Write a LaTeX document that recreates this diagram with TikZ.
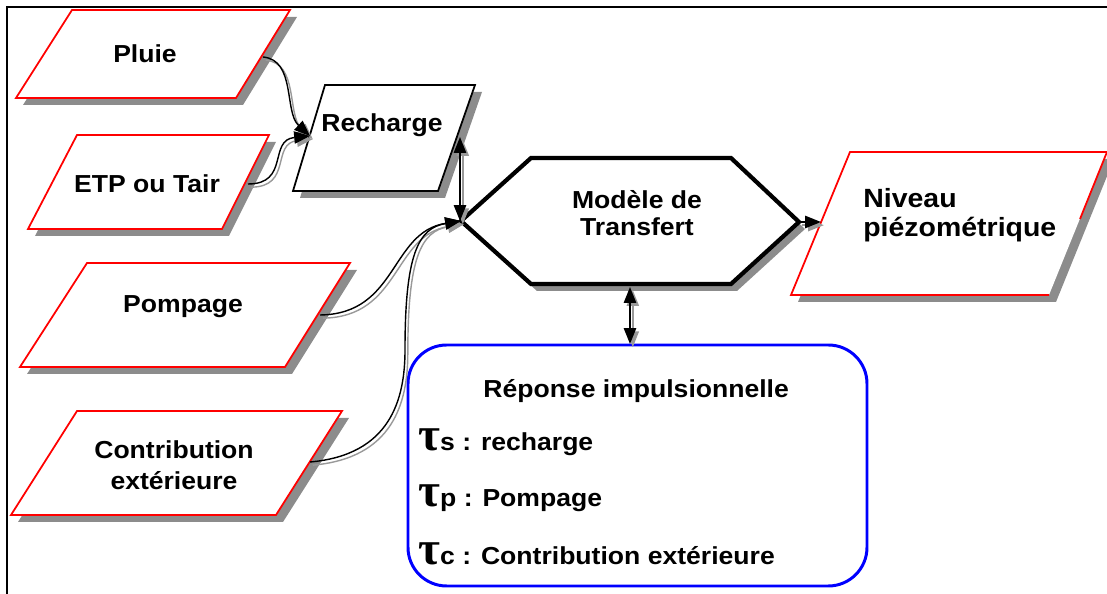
\documentclass[tikz,border=0pt]{standalone}
\usepackage{fontspec}
\setmainfont{Liberation Sans}[FakeStretch=1.08]
\newfontfamily\taufont{Liberation Serif}
\usetikzlibrary{arrows.meta}

\tikzset{
  arr/.tip={Triangle[length=9pt,width=7pt]},
  frame/.style={draw=black, line width=1.2pt},
  inbox/.style={draw=red, fill=white, line width=1pt},
  recbox/.style={draw=black, fill=white, line width=1pt},
  hexbox/.style={draw=black, fill=white, line width=2.4pt, line join=miter},
  respbox/.style={draw=blue, line width=1.7pt, rounded corners=22pt},
  shade/.style={fill=black!45, draw=none},
  lbl/.style={font=\bfseries\fontsize{14}{17}\selectfont, inner sep=0pt, anchor=base},
  biglbl/.style={lbl, font=\bfseries\fontsize{15}{17}\selectfont, anchor=base west},
  taulbl/.style={lbl, anchor=base west},
  link/.style={line width=0.8pt, #1,
    preaction={draw=black!40, line width=0.8pt, #1, transform canvas={shift={(1.6pt,-1.8pt)}}}},
  link/.default={-arr},
}

% slanted box with its shadow: style, top left x, top right x, top y, bottom left x, bottom right x, bottom y
\newcommand{\pbox}[7]{%
  \fill[shade, shift={(7,7)}] (#2,#4) -- (#3,#4) -- (#6,#7) -- (#5,#7) -- cycle;
  \draw[#1] (#2,#4) -- (#3,#4) -- (#6,#7) -- (#5,#7) -- cycle;}
\newcommand{\tauchar}{{\taufont\fontsize{27}{27}\selectfont τ}}

\begin{document}
\begin{tikzpicture}[x=0.02cm, y=-0.02cm]
\useasboundingbox (0,0) rectangle (1107,594);
\clip (0,0) rectangle (1107,594);

\draw[frame] (7,594) -- (7,7) -- (1107,7);

% inputs
\pbox{inbox}{72}{290}{10}{16}{236}{98}
\pbox{inbox}{77}{269}{135}{28}{222}{229}
\pbox{inbox}{87}{350}{263}{20}{285}{367}
\pbox{inbox}{77}{342}{411}{11}{276}{515}
\pbox{recbox}{325}{475}{85}{293}{438}{191}

% model
\fill[shade, shift={(6,7)}] (461,221) -- (531,158) -- (731,158) -- (799,222) -- (731,284) -- (531,284) -- cycle;
\draw[hexbox] (461,221) -- (531,158) -- (731,158) -- (799,222) -- (731,284) -- (531,284) -- cycle;

% output
\fill[shade, shift={(7,7)}] (850,152) -- (1107,152) -- (1049,295) -- (791,295) -- cycle;
\fill[white] (850,152) -- (1107,152) -- (1049,295) -- (791,295) -- cycle;
\draw[draw=red, line width=1pt] (1080,219) -- (1107,152) -- (850,152) -- (791,295) -- (1049,295);

% impulse response
\draw[respbox] (408,345) rectangle (867,586);

\node[lbl] (pluie) at (145,63) {Pluie};
\node[lbl] (etp) at (147,193) {ETP ou Tair};
\node[lbl] (recharge) at (382,132) {Recharge};
\node[lbl] (pompage) at (183,313) {Pompage};
\node[lbl] (contrib) at (174,459) {Contribution};
\node[lbl] (contrib2) at (174,490) {extérieure};
\node[lbl] (modele) at (637,209) {Modèle de};
\node[lbl] (modele2) at (637,236) {Transfert};
\node[biglbl] (niveau) at (863,208) {Niveau};
\node[biglbl] (niveau2) at (863,237) {piézométrique};
\node[taulbl] (reponse) at (483,398) {Réponse impulsionnelle};
\node[taulbl] (tau-s) at (418,451) {\tauchar s : recharge};
\node[taulbl] (tau-p) at (418,507) {\tauchar p : Pompage};
\node[taulbl] (tau-c) at (418,565) {\tauchar c : Contribution extérieure};

\coordinate (pluie-out) at (263,57);
\coordinate (etp-out) at (248,184);
\coordinate (rech-in) at (310,136);
\coordinate (rech-e) at (460,137);
\coordinate (pomp-out) at (320,315);
\coordinate (contrib-out) at (310,462);
\coordinate (hex-w) at (461,221);
\coordinate (hex-e) at (799,222);
\coordinate (hex-s) at (630,287);
\coordinate (niv-w) at (821,222);
\coordinate (rep-n) at (630,344);

\draw[link] (pluie-out) .. controls (296,60) and (284,112) .. (rech-in);
\draw[link] (etp-out) .. controls (290,184) and (268,140) .. (rech-in);
\draw[link={arr-arr}] (rech-e) -- (rech-e |- hex-w);
\draw[link] (pomp-out) .. controls (398,314) and (390,232) .. (hex-w);
\draw[link] (contrib-out) .. controls (390,455) and (405,400) .. (405,350) .. controls (405,255) and (418,228) .. (hex-w);
\draw[link] (hex-e) -- (niv-w);
\draw[link={arr-arr}] (hex-s) -- (rep-n);
\end{tikzpicture}
\end{document}
